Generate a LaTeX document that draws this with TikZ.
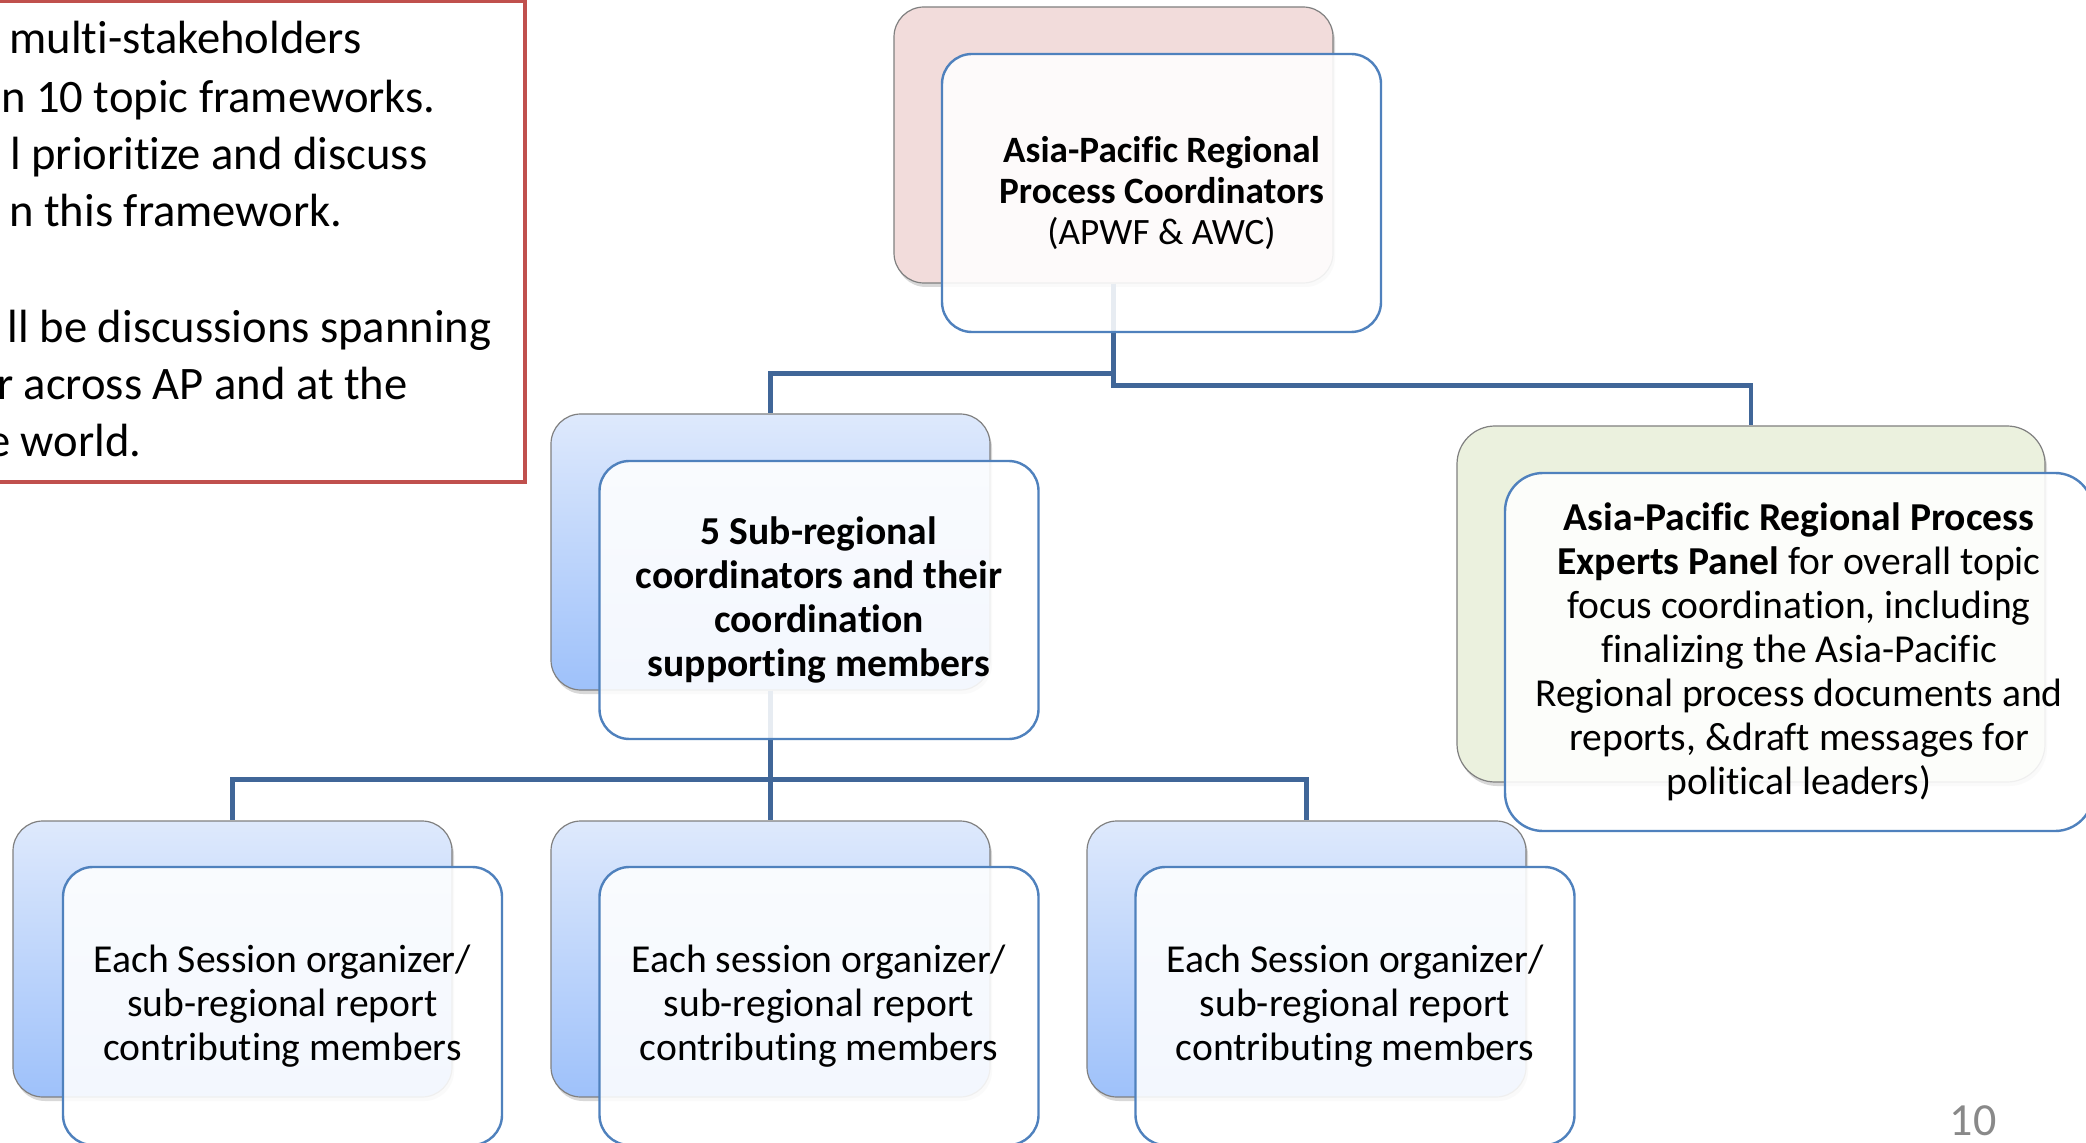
\documentclass[tikz,border=0pt]{standalone}
\usepackage{fontspec}
\setmainfont{Carlito}[Ligatures=NoCommon]
\usetikzlibrary{shadows}
\definecolor{connc}{RGB}{64,102,152}
\definecolor{frontline}{RGB}{79,129,189}
\definecolor{backline}{RGB}{128,128,128}
\definecolor{pinkfill}{RGB}{242,220,219}
\definecolor{greenfill}{RGB}{235,241,222}
\definecolor{bluetop}{RGB}{222,233,252}
\definecolor{bluebot}{RGB}{158,193,250}
\definecolor{redline}{RGB}{192,80,77}
\definecolor{pagegray}{RGB}{137,137,137}
\newcommand{\boxfont}{\fontsize{19.8pt}{22pt}\selectfont}
\newcommand{\topfont}{\fontsize{18.6pt}{20.6pt}\selectfont}
\newcommand{\notefont}{\fontsize{23.3pt}{28.8pt}\selectfont}
\begin{document}
\begin{tikzpicture}[x=0.5pt,y=-0.5pt,
  back/.style={rounded corners=15pt, draw=backline, line width=0.6pt,
    minimum width=219.5pt, minimum height=138pt, inner sep=0pt,
    drop shadow={shadow xshift=1pt, shadow yshift=-2pt, opacity=0.3}},
  blueback/.style={back, top color=bluetop, bottom color=bluebot},
  pinkback/.style={back, fill=pinkfill},
  greenback/.style={back, fill=greenfill, rounded corners=19pt,
    minimum width=294pt, minimum height=178pt},
  front/.style={rounded corners=15pt, draw=frontline, line width=1.2pt,
    fill=white, fill opacity=0.88, text opacity=1,
    minimum width=219.5pt, minimum height=139pt, align=center,
    inner sep=2pt, font=\boxfont},
  bigfront/.style={front, rounded corners=19pt, minimum width=294pt, minimum height=179pt},
  conn/.style={draw=connc, line width=2.2pt},
  note/.style={anchor=base east, inner sep=0pt, font=\notefont}
]
\useasboundingbox (0,0) rectangle (2086,1143);
\clip (0,0) rectangle (2086,1143);
\fill[white] (0,0) rectangle (2086,1143);

% red note box
\draw[redline, line width=1.8pt, fill=white] (-30,1) rectangle (525,482);
\node[note] (n1) at (362,54) {multi-stakeholders};
\node[note] (n2) at (436,113) {n 10 topic frameworks.};
\node[note] (n3) at (428,170) {l prioritize and discuss};
\node[note] (n4) at (343,227) {n this framework.};
\node[note] (n5) at (492,343) {ll be discussions spanning};
\node[note] (n6) at (408,400) {r across AP and at the};
\node[note] (n7) at (142,457) {e world.};

% back boxes
\node[pinkback] (topB) at (1113.5,145) {};
\node[blueback] (subB) at (770.5,552) {};
\node[greenback] (expB) at (1751,604) {};
\node[blueback] (b1B) at (232.5,959) {};
\node[blueback] (b2B) at (770.5,959) {};
\node[blueback] (b3B) at (1306.5,959) {};

% connectors
\draw[conn] (topB.south) -- ++(0,90) -| (subB.north);
\draw[conn] (topB.south) -- ++(0,102) -| (expB.north);
\draw[conn] (subB.south) -- ++(0,89) -| (b1B.north);
\draw[conn] (subB.south) -- ++(0,89) -| (b2B.north);
\draw[conn] (subB.south) -- ++(0,89) -| (b3B.north);

% front boxes
\node[front, font=\topfont] (topF) at (1161.5,193)
  {\textbf{Asia-Pacific Regional}\\\textbf{Process Coordinators}\\(APWF \& AWC)};
\node[front] (subF) at (819,600)
  {\textbf{5 Sub-regional}\\\textbf{coordinators and their}\\\textbf{coordination}\\\textbf{supporting members}};
\node[bigfront] (expF) at (1799,652)
  {\textbf{Asia-Pacific Regional Process}\\\textbf{Experts Panel} for overall topic\\focus coordination, including\\finalizing the Asia-Pacific\\Regional process documents and\\reports, \&draft messages for\\political leaders)};
\node[front] (b1F) at (282.5,1006)
  {Each Session organizer/\\sub-regional report\\contributing members};
\node[front] (b2F) at (819,1006)
  {Each session organizer/\\sub-regional report\\contributing members};
\node[front] (b3F) at (1355,1006)
  {Each Session organizer/\\sub-regional report\\contributing members};

% page number
\node[anchor=base, inner sep=0pt, text=pagegray, font=\fontsize{23pt}{27pt}\selectfont] (pg) at (1973,1135) {10};
\end{tikzpicture}
\end{document}
